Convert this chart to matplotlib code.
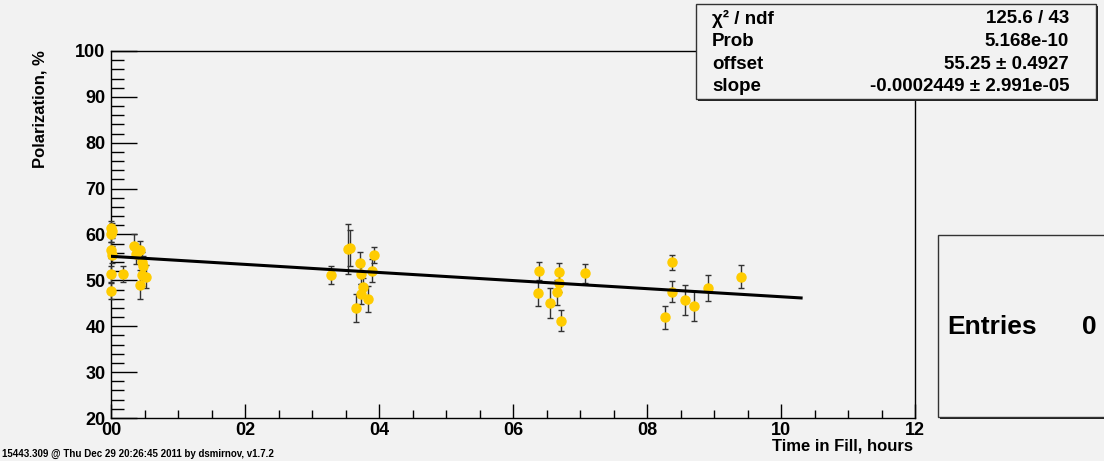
import numpy as np
import matplotlib
matplotlib.use('Agg')
from matplotlib import pyplot as plt
from matplotlib.patches import Rectangle
from matplotlib.ticker import MultipleLocator, FuncFormatter

plt.rcParams['font.family'] = ['Liberation Sans', 'DejaVu Sans']
plt.rcParams['font.weight'] = 'bold'

## time in fill (hours), polarization (%), error
hours = [0.00, 0.01, 0.00, 0.00, 0.01, 0.00, 0.00, 0.18, 0.34, 0.38, 0.44, 0.44, 0.46, 0.48, 0.47, 0.52,
         3.29, 3.54, 3.57, 3.71, 3.93, 3.73, 3.89, 3.76, 3.73, 3.84, 3.65,
         6.39, 6.38, 6.55, 6.69, 6.69, 6.66, 6.72, 7.07,
         8.27, 8.37, 8.37, 8.57, 8.70, 8.91, 9.41]
pol = [61.4, 60.8, 60.2, 56.6, 55.6, 51.4, 47.7, 51.4, 57.6, 55.8, 56.6, 49.1, 54.1, 53.2, 51.2, 50.8,
       51.2, 56.8, 57.0, 53.7, 55.5, 51.3, 52.1, 48.6, 47.0, 45.9, 44.0,
       52.1, 47.2, 45.0, 51.8, 49.5, 47.4, 41.2, 51.5,
       42.0, 53.9, 47.5, 45.7, 44.4, 48.3, 50.8]
err = [1.6, 1.6, 1.8, 1.8, 1.8, 1.8, 1.8, 1.8, 2.6, 2.2, 2.0, 3.2, 2.0, 2.2, 2.5, 2.5,
       2.0, 5.5, 3.9, 2.5, 1.8, 2.0, 2.5, 2.0, 2.2, 2.8, 3.0,
       2.0, 2.7, 3.3, 2.0, 2.0, 2.7, 2.3, 2.0,
       2.5, 1.6, 2.3, 3.3, 3.2, 2.8, 2.5]

offset = 55.25
slope = -0.0002449      # per second
fit_end = 10.3          # hours

stat_labels = ['χ² / ndf', 'Prob', 'offset', 'slope']
stat_values = ['125.6 / 43', '5.168e-10', '55.25 ± 0.4927', '-0.0002449 ± 2.991e-05']

W, H = 1104, 461
bg = '#f2f2f2'
fig = plt.figure(figsize=(W / 100, H / 100), dpi=100, facecolor=bg)
ax = fig.add_axes([111 / W, 1 - 418 / H, (915 - 111) / W, (418 - 51) / H])
ax.set_facecolor(bg)

markers, caps, bars = ax.errorbar(hours, pol, yerr=err, fmt='o', color='#ffcc00', ms=6.5, mec='#ffcc00',
                                  ecolor='#333333', elinewidth=1, capsize=2.5, capthick=1, zorder=3)
markers.set_clip_on(False)
for c in caps:
    c.set_clip_on(False)
for b in bars:
    b.set_clip_on(False)

t = np.array([0, fit_end])
ax.plot(t, offset + slope * t * 3600, color='black', lw=2.2, zorder=4)

ax.set_xlim(0, 12)
ax.set_ylim(20, 100)
ax.xaxis.set_major_locator(MultipleLocator(2))
ax.xaxis.set_minor_locator(MultipleLocator(0.5))
ax.yaxis.set_major_locator(MultipleLocator(10))
ax.yaxis.set_minor_locator(MultipleLocator(2))
ax.xaxis.set_major_formatter(FuncFormatter(lambda v, p: '%02d' % v))
ax.tick_params(axis='y', which='major', direction='in', length=19, width=1, labelsize=13, pad=4)
ax.tick_params(axis='y', which='minor', direction='in', length=9, width=1)
ax.tick_params(axis='x', which='major', direction='in', length=10, width=1, labelsize=13, pad=3)
ax.tick_params(axis='x', which='minor', direction='in', length=6, width=1)
for s in ax.spines.values():
    s.set_linewidth(1)

fig.text(40 / W, 1 - 50 / H, 'Polarization, %', rotation=90, ha='center', va='top',
         fontsize=12, fontweight='bold')
fig.text(913 / W, 1 - 446 / H, 'Time in Fill, hours', ha='right', va='center',
         fontsize=12, fontweight='bold')
fig.text(2 / W, 1 - 454 / H, '15443.309 @ Thu Dec 29 20:26:45 2011 by dsmirnov, v1.7.2',
         ha='left', va='center', fontsize=7, fontweight='bold')

# stats box
def box(x0, y0, x1, y1):
    fig.add_artist(Rectangle(((x0 + 2) / W, 1 - (y1 + 2) / H), (x1 - x0) / W, (y1 - y0) / H,
                             transform=fig.transFigure, facecolor='#222222', edgecolor='none', zorder=5))
    fig.add_artist(Rectangle((x0 / W, 1 - y1 / H), (x1 - x0) / W, (y1 - y0) / H,
                             transform=fig.transFigure, facecolor=bg, edgecolor='#333333', lw=1, zorder=6))

box(696, 4, 1096, 99)
for i, (lab, val) in enumerate(zip(stat_labels, stat_values)):
    yy = 1 - (18.5 + i * 22.8) / H
    fig.text(712 / W, yy, lab, ha='left', va='center', fontsize=13.5, fontweight='bold', zorder=7)
    fig.text(1069 / W, yy, val, ha='right', va='center', fontsize=13.5, fontweight='bold', zorder=7)

box(938, 235, 1110, 417)
fig.text(947 / W, 1 - 327 / H, 'Entries', ha='left', va='center', fontsize=19, fontweight='bold', zorder=7)
fig.text(1097 / W, 1 - 327 / H, '0', ha='right', va='center', fontsize=19, fontweight='bold', zorder=7)

fig.savefig('out.png', dpi=100, facecolor=bg)
